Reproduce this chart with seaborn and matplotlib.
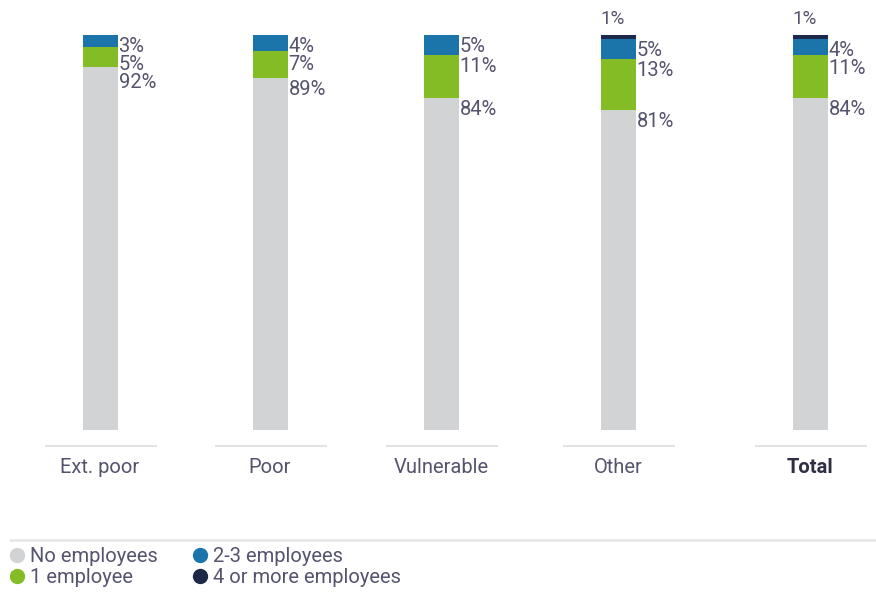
import matplotlib
matplotlib.use("Agg")
import matplotlib.pyplot as plt
import seaborn as sns
import pandas as pd
import numpy as np
from matplotlib.lines import Line2D

# Share of households by number of employees (%)
categories = ["Ext. poor", "Poor", "Vulnerable", "Other", "Total"]
no_employees = [92, 89, 84, 81, 84]
one_employee = [5, 7, 11, 13, 11]
two_three_employees = [3, 4, 5, 5, 4]
four_plus_employees = [0, 0, 0, 1, 1]
series_names = ["No employees", "1 employee", "2-3 employees", "4 or more employees"]

# Layout: horizontal bar centres (pixel units across the figure width)
x_pos = [100, 270, 441, 618, 810]
colors = ["#d1d3d5", "#84bc25", "#1b75ab", "#1c2948"]
text_color = "#55546e"
fs = 14.5

sns.set_theme(style="white")
plt.rcParams["font.family"] = ["Roboto", "DejaVu Sans"]

W, H = 876, 594
fig = plt.figure(figsize=(W / 100, H / 100), dpi=100)
ax = fig.add_axes([0, (H - 430) / H, 1, 395 / H])

series = np.array([no_employees, one_employee, two_three_employees, four_plus_employees])
cum = np.cumsum(series, axis=0)

# Stacked bars: draw cumulative totals from the top layer down
for k in range(len(series) - 1, -1, -1):
    df = pd.DataFrame({"pos": x_pos, "value": cum[k]})
    sns.barplot(data=df, x="pos", y="value", native_scale=True,
                width=35 / 170, color=colors[k], saturation=1,
                linewidth=0, errorbar=None, ax=ax)

ax.set_xlim(0, W)
ax.set_ylim(0, 100)
px = 395 / 100  # pixels per percentage point
half_w = 17.5

# Value labels
for i, xc in enumerate(x_pos):
    if series[3][i] > 0:
        ax.text(xc - half_w, 100 + 16 / px, f"{series[3][i]}%", ha="left", va="center",
                fontsize=fs - 1, color=text_color, clip_on=False)
    prev_bottom = None
    for k in (2, 1, 0):
        v = series[k][i]
        if v <= 0:
            continue
        top = cum[k][i] - 2 / px
        if prev_bottom is not None:
            top = min(top, prev_bottom)
        ax.text(xc + half_w + 1, top, f"{v}%", ha="left", va="top",
                fontsize=fs, color=text_color, clip_on=False)
        prev_bottom = top - 18 / px

# Category axis
ax.set_xticks(x_pos)
ax.set_xticklabels(categories, fontsize=fs, color=text_color)
ax.get_xticklabels()[-1].set_fontweight("bold")
ax.get_xticklabels()[-1].set_color("#2f2e45")
ax.tick_params(axis="x", length=0, pad=20)
ax.set_yticks([])
ax.set_xlabel("")
ax.set_ylabel("")
for s in ax.spines.values():
    s.set_visible(False)

# Short baseline under each bar
for xc in x_pos:
    ax.plot([xc - 55, xc + 57], [-16 / px, -16 / px], color="#dedede", lw=1.2,
            clip_on=False, solid_capstyle="butt")

# Separator above the legend
fig.add_artist(Line2D([10 / W, 1], [1 - 540 / H, 1 - 540 / H], color="#e6e6e6", lw=1.8))

handles = [Line2D([], [], marker="o", linestyle="none", markersize=10,
                  markerfacecolor=c, markeredgecolor=c) for c in colors]
fig.legend(handles, series_names, ncol=2, loc="upper left",
           bbox_to_anchor=(3 / W, 1 - 543 / H), frameon=False,
           fontsize=fs, labelcolor=text_color, handletextpad=0.15,
           handlelength=1.0, columnspacing=1.6, labelspacing=0.12,
           borderaxespad=0, borderpad=0.2)

fig.savefig("out.png", dpi=100)
